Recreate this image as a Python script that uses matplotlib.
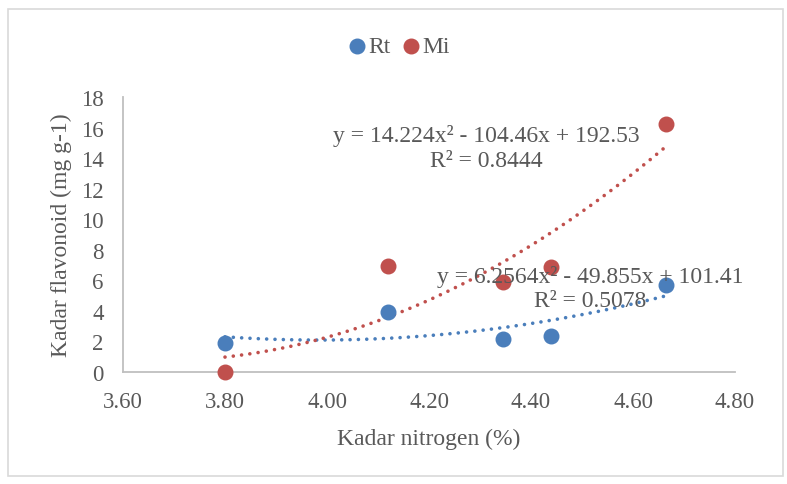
import numpy as np
import matplotlib.pyplot as plt
from matplotlib.patches import Rectangle

plt.rcParams['font.family'] = ['Liberation Serif', 'DejaVu Serif']

# nitrogen content vs flavonoid content
nitrogen = [3.80, 4.12, 4.345, 4.44, 4.665]
rt = [1.88, 3.91, 2.16, 2.38, 5.7]
mi = [0.0, 6.95, 5.88, 6.85, 16.22]

# second order trendline coefficients (a, b, c) and R²
rt_fit = [6.2564, -49.855, 101.41]
rt_r2 = 0.5078
mi_fit = [14.224, -104.46, 192.53]
mi_r2 = 0.8444

x_ticks = [3.60, 3.80, 4.00, 4.20, 4.40, 4.60, 4.80]
y_ticks = [0, 2, 4, 6, 8, 10, 12, 14, 16, 18]

blue = '#4a7ebb'
red = '#c0504d'
grey = '#595959'
fs = 17

fig = plt.figure(figsize=(7.87, 4.85), dpi=100)
fig.patches.append(Rectangle((8 / 787, 8 / 485), 775 / 787, 467 / 485,
                             transform=fig.transFigure, fill=False,
                             edgecolor='#d9d9d9', linewidth=1.2))

ax = fig.add_axes([123 / 787, 112 / 485, 612 / 787, 275 / 485])

xs = np.linspace(min(nitrogen), max(nitrogen), 200)
ax.plot(xs, np.polyval(rt_fit, xs), color=blue, linewidth=2.6,
        linestyle=(0, (0.01, 2.3)), dash_capstyle='round', zorder=2)
ax.plot(xs, np.polyval(mi_fit, xs), color=red, linewidth=2.6,
        linestyle=(0, (0.01, 2.3)), dash_capstyle='round', zorder=2)

ax.scatter(nitrogen, rt, s=110, color=blue, label='Rt', zorder=3, clip_on=False)
ax.scatter(nitrogen, mi, s=110, color=red, label='Mi', zorder=3, clip_on=False)

def eq_text(coef, r2):
    a, b, c = coef
    return (f'y = {a:g}x² - {abs(b):g}x + {c:g}', f'R² = {r2:g}')

eq, r = eq_text(mi_fit, mi_r2)
ax.text(4.312, 15.5, eq, ha='center', va='center', fontsize=fs, color=grey)
ax.text(4.312, 13.87, r, ha='center', va='center', fontsize=fs, color=grey)
eq, r = eq_text(rt_fit, rt_r2)
ax.text(4.516, 6.28, eq, ha='center', va='center', fontsize=fs, color=grey)
ax.text(4.516, 4.65, r, ha='center', va='center', fontsize=fs, color=grey)

ax.set_xlim(3.60, 4.80)
ax.set_ylim(0, 18)
ax.set_xticks(x_ticks)
ax.set_xticklabels([f'{t:.2f}' for t in x_ticks])
ax.set_yticks(y_ticks)
ax.tick_params(length=0, labelsize=16.5, labelcolor=grey)
ax.tick_params(axis='x', pad=14)
ax.tick_params(axis='y', pad=14)

for side in ['top', 'right']:
    ax.spines[side].set_visible(False)
for side in ['left', 'bottom']:
    ax.spines[side].set_color('#bfbfbf')
    ax.spines[side].set_linewidth(1.3)

ax.set_xlabel('Kadar nitrogen (%)', fontsize=fs, color=grey, labelpad=11)
ax.set_ylabel('Kadar flavonoid (mg g-1)', fontsize=fs, color=grey, labelpad=6)

fig.legend(loc='center', bbox_to_anchor=(400 / 787, 1 - 47 / 485), ncol=2,
           frameon=False, fontsize=fs, handlelength=0.6, handletextpad=0.2,
           columnspacing=0.55, labelcolor=grey, markerscale=1.0)

fig.savefig('out.png', dpi=100)
